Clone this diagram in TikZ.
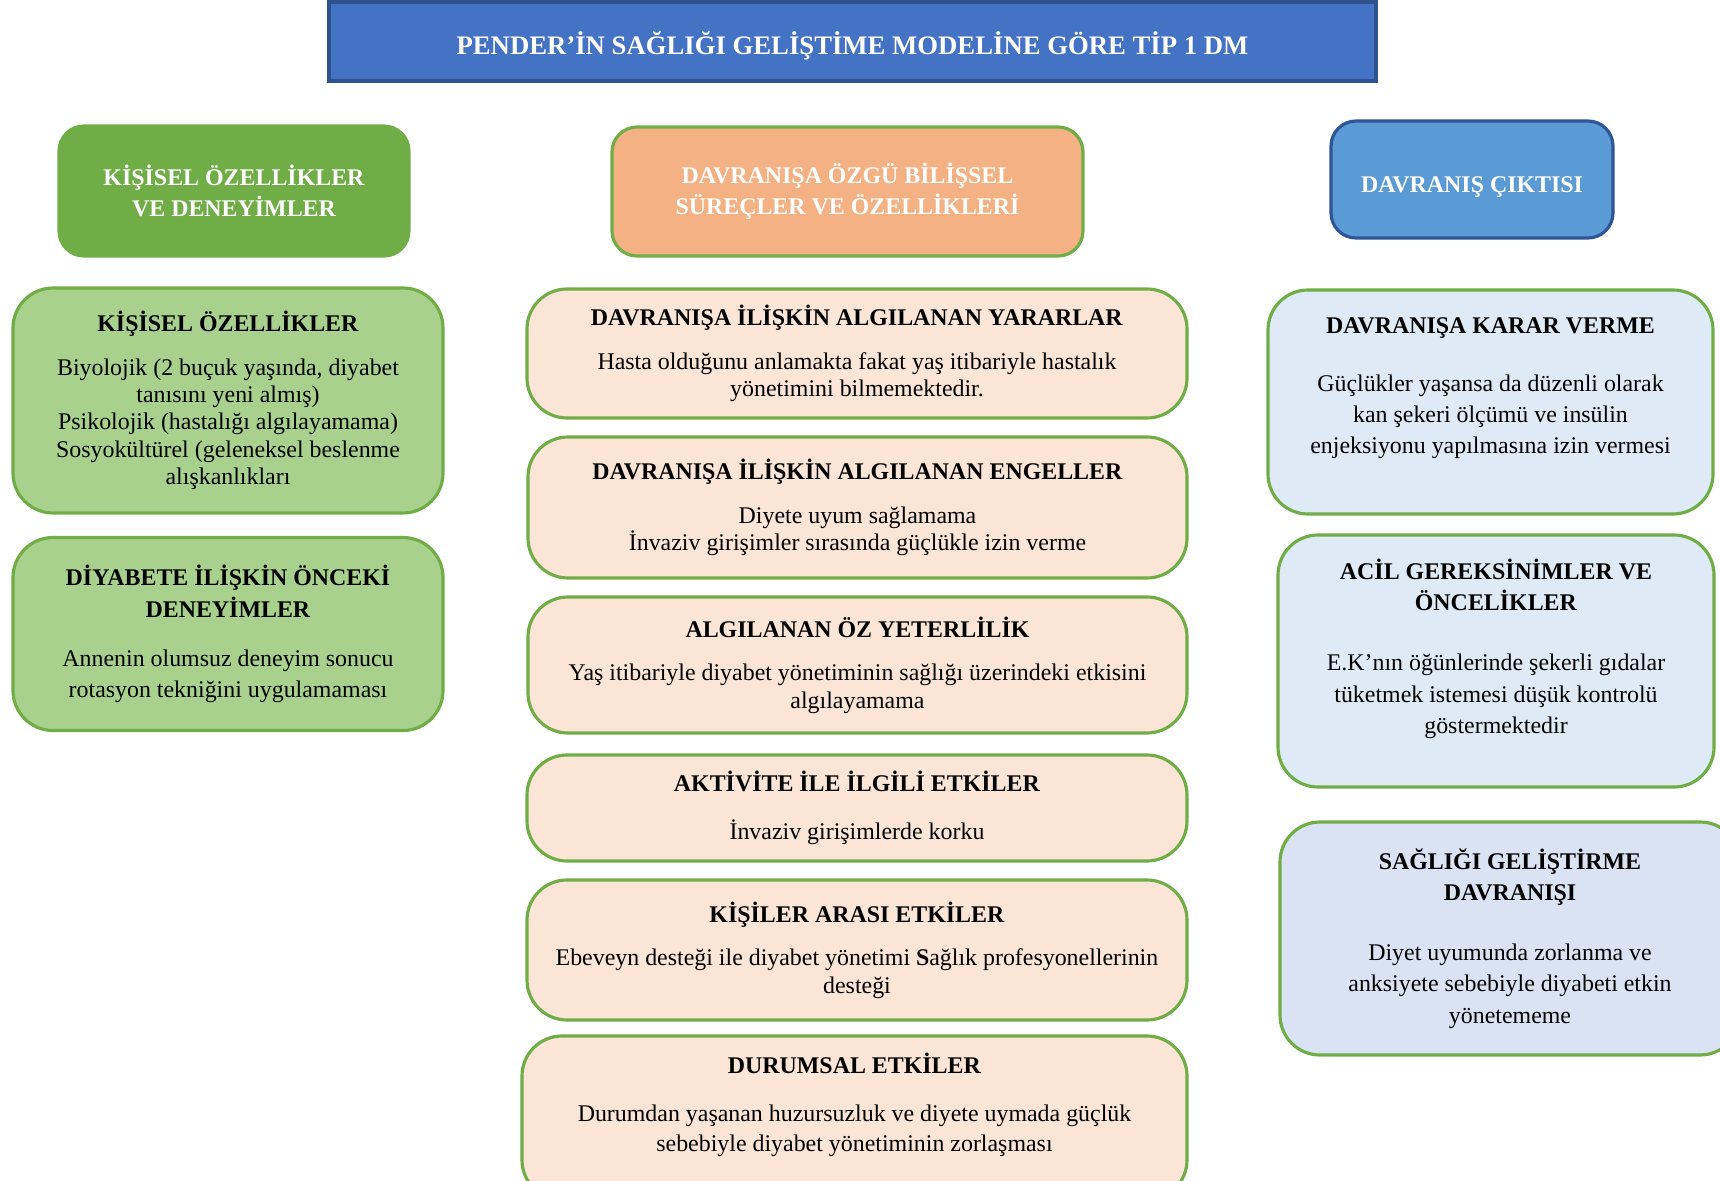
\documentclass[tikz,border=0pt]{standalone}
\usepackage{fontspec}
\setmainfont{Liberation Serif}
\usetikzlibrary{positioning}

\definecolor{bannerblue}{HTML}{4472C4}
\definecolor{bannerline}{HTML}{2F528F}
\definecolor{leafgreen}{HTML}{70AD47}
\definecolor{palegreen}{HTML}{A9D18E}
\definecolor{apricot}{HTML}{F4B183}
\definecolor{peach}{HTML}{FBE5D6}
\definecolor{skyblue}{HTML}{5B9BD5}
\definecolor{skyline}{HTML}{2F5597}
\definecolor{iceblue}{HTML}{DEEBF7}
\definecolor{lavender}{HTML}{DAE3F3}

\tikzset{
    box/.style={rectangle, rounded corners=0.4cm, draw=leafgreen, line width=0.9pt,
        align=center, inner sep=0pt, font=\fontsize{6.8}{7.8}\selectfont},
    widebox/.style={box, font=\fontsize{6.8}{8.9}\selectfont},
    boxtext/.style={align=center, inner sep=0pt, font=\fontsize{6.8}{8.9}\selectfont},
    headbox/.style={box, rounded corners=0.25cm, text=white,
        font=\bfseries\fontsize{6.8}{8.8}\selectfont},
}

\begin{document}
\begin{tikzpicture}
    \fill [white] (0, 0) rectangle (17.2, -11.81);
    \useasboundingbox (0, 0) rectangle (17.2, -11.81);

    % banner
    \node (Title) at (8.525, -0.415) [rectangle, fill=bannerblue, draw=bannerline, line width=1.2pt,
    minimum width=10.47cm, minimum height=0.79cm, text=white, text height=7.6pt, text depth=0pt,
    font=\bfseries\fontsize{7.6}{8.8}\selectfont]
    {PENDER’İN SAĞLIĞI GELİŞTİME MODELİNE GÖRE TİP 1 DM};

    % column heads
    \node (HeadL) at (2.34, -1.91)  [headbox, fill=leafgreen,
    minimum width=3.5cm, minimum height=1.30cm] {KİŞİSEL ÖZELLİKLER\\VE DENEYİMLER};
    \node (HeadM) at (8.475, -1.915) [headbox, fill=apricot,
    minimum width=4.71cm, minimum height=1.29cm] {DAVRANIŞA ÖZGÜ BİLİŞSEL\\SÜREÇLER VE ÖZELLİKLERİ};
    \node (HeadR) at (14.72, -1.795) [headbox, fill=skyblue, draw=skyline, text height=7.2pt, text depth=0pt,
    minimum width=2.82cm, minimum height=1.17cm] {DAVRANIŞ ÇIKTISI};

    % left column
    \node (L1) at (2.28, -4.005) [box, fill=palegreen, minimum width=4.3cm, minimum height=2.25cm]
    {\textbf{KİŞİSEL ÖZELLİKLER}\\[4.6pt]
     Biyolojik (2 buçuk yaşında, diyabet\\ tanısını yeni almış)\\
     Psikolojik (hastalığı algılayamama)\\ Sosyokültürel (geleneksel beslenme\\ alışkanlıkları};
    \node (L2) at (2.28, -6.34) [widebox, fill=palegreen, minimum width=4.3cm, minimum height=1.93cm]
    {\textbf{DİYABETE İLİŞKİN ÖNCEKİ}\\ \textbf{DENEYİMLER}\\[5pt]
     Annenin olumsuz deneyim sonucu\\ rotasyon tekniğini uygulamaması};

    % middle column
    \node (M1) at (8.57, -3.535) [box, fill=peach, minimum width=6.6cm, minimum height=1.29cm]
    {\textbf{DAVRANIŞA İLİŞKİN ALGILANAN YARARLAR}\\[4.6pt]
     Hasta olduğunu anlamakta fakat yaş itibariyle hastalık\\ yönetimini bilmemektedir.};
    \node (M2) at (8.575, -5.075) [box, fill=peach, minimum width=6.59cm, minimum height=1.41cm]
    {\textbf{DAVRANIŞA İLİŞKİN ALGILANAN ENGELLER}\\[4.6pt]
     Diyete uyum sağlamama\\ İnvaziv girişimler sırasında güçlükle izin verme};
    \node (M3) at (8.575, -6.65) [box, fill=peach, minimum width=6.59cm, minimum height=1.36cm]
    {\textbf{ALGILANAN ÖZ YETERLİLİK}\\[4.6pt]
     Yaş itibariyle diyabet yönetiminin sağlığı üzerindeki etkisini\\ algılayamama};
    \node (M4) at (8.57, -8.08) [box, fill=peach, minimum width=6.6cm, minimum height=1.06cm]
    {\textbf{AKTİVİTE İLE İLGİLİ ETKİLER}\\[6pt]
     İnvaziv girişimlerde korku};
    \node (M5) at (8.57, -9.50) [box, fill=peach, minimum width=6.6cm, minimum height=1.40cm]
    {\textbf{KİŞİLER ARASI ETKİLER}\\[4.6pt]
     Ebeveyn desteği ile diyabet yönetimi \textbf{S}ağlık profesyonellerinin\\ desteği};
    \node (M6) at (8.545, -11.18) [box, fill=peach, minimum width=6.65cm, minimum height=1.64cm] {};
    \node (M6t) [boxtext, below=0.18cm of M6.north, font=\fontsize{6.8}{8.6}\selectfont]
    {\textbf{DURUMSAL ETKİLER}\\[5pt]
     Durumdan yaşanan huzursuzluk ve diyete uymada güçlük\\ sebebiyle diyabet yönetiminin zorlaşması};

    % right column
    \node (R1) at (14.905, -4.02) [box, fill=iceblue, minimum width=4.45cm, minimum height=2.24cm] {};
    \node (R1t) [boxtext, below=0.29cm of R1.north]
    {\textbf{DAVRANIŞA KARAR VERME}\\[7.4pt]
     Güçlükler yaşansa da düzenli olarak\\ kan şekeri ölçümü ve insülin\\
     enjeksiyonu yapılmasına izin vermesi};
    \node (R2) at (14.96, -6.61) [box, fill=iceblue, minimum width=4.36cm, minimum height=2.52cm] {};
    \node (R2t) [boxtext, below=0.25cm of R2.north]
    {\textbf{ACİL GEREKSİNİMLER VE}\\ \textbf{ÖNCELİKLER}\\[8.2pt]
     E.K’nın öğünlerinde şekerli gıdalar\\ tüketmek istemesi düşük kontrolü\\ göstermektedir};
    \node (R3) at (15.10, -9.385) [widebox, fill=lavender, minimum width=4.6cm, minimum height=2.33cm]
    {\textbf{SAĞLIĞI GELİŞTİRME}\\ \textbf{DAVRANIŞI}\\[8.2pt]
     Diyet uyumunda zorlanma ve\\ anksiyete sebebiyle diyabeti etkin\\ yönetememe};
\end{tikzpicture}
\end{document}
